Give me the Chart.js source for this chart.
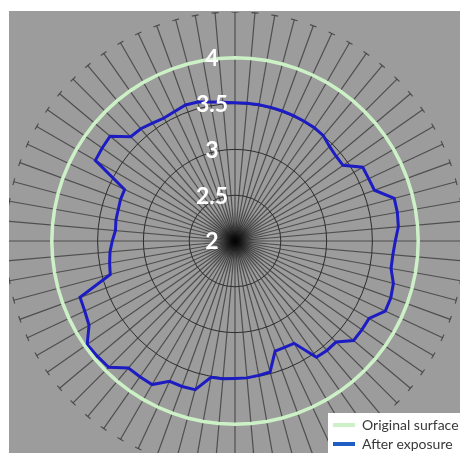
<!DOCTYPE html>
<html>
<head>
<meta charset="utf-8">
<script src="https://cdn.jsdelivr.net/npm/chart.js@4/dist/chart.umd.min.js"></script>
<style>
  html, body { margin: 0; padding: 0; background: #ffffff; width: 460px; height: 453px; overflow: hidden; }
  #plot { position: absolute; left: 9px; top: 11px; width: 451px; height: 442px; background: #9c9c9c; overflow: hidden; }
  #plot canvas { position: absolute; left: -3px; top: 1px; }
  #legend { position: absolute; left: 328px; top: 413px; width: 132px; height: 40px; background: #ffffff;
            font-family: Lato, "Open Sans", sans-serif; font-size: 14px; color: #383838; }
  .row { position: absolute; left: 0; height: 20px; line-height: 20px; white-space: nowrap; }
  .swatch { position: absolute; left: 5px; top: 8px; width: 22px; height: 4px; }
  .txt { position: absolute; left: 34px; top: 0; }
</style>
</head>
<body>
<div id="plot"><canvas id="c" width="458" height="458"></canvas></div>
<div id="legend">
  <div class="row" style="top:2px"><div class="swatch" style="background:#cdf1c6"></div><div class="txt">Original surface</div></div>
  <div class="row" style="top:21px"><div class="swatch" style="background:#1f5fc4"></div><div class="txt">After exposure</div></div>
</div>
<script>
// Measurement angles around the sample (degrees, clockwise from top)
const angles = ["0°","5°","10°","15°","20°","25°","30°","35°","40°","45°","50°","55°",
  "60°","65°","70°","75°","80°","85°","90°","95°","100°","105°","110°","115°",
  "120°","125°","130°","135°","140°","145°","150°","155°","160°","165°","170°","175°",
  "180°","185°","190°","195°","200°","205°","210°","215°","220°","225°","230°","235°",
  "240°","245°","250°","255°","260°","265°","270°","275°","280°","285°","290°","295°",
  "300°","305°","310°","315°","320°","325°","330°","335°","340°","345°","350°","355°"];

// Radius of the untouched surface
const originalSurface = [4,4,4,4,4,4,4,4,4,4,4,4, 4,4,4,4,4,4,4,4,4,4,4,4,
  4,4,4,4,4,4,4,4,4,4,4,4, 4,4,4,4,4,4,4,4,4,4,4,4,
  4,4,4,4,4,4,4,4,4,4,4,4, 4,4,4,4,4,4,4,4,4,4,4,4];

// Radius profile measured after exposure
const afterExposure = [3.51,3.51,3.51,3.51,3.51,3.51,3.51,3.51,3.50,3.46,3.44,3.44,
  3.61,3.61,3.62,3.80,3.80,3.79,3.75,3.73,3.73,3.79,3.81,3.81,
  3.69,3.69,3.69,3.56,3.56,3.55,3.29,3.28,3.28,3.48,3.49,3.50,
  3.50,3.51,3.51,3.68,3.69,3.69,3.81,3.81,3.81,3.95,3.96,3.97,
  3.84,3.81,3.80,3.41,3.39,3.37,3.34,3.31,3.32,3.32,3.33,3.33,
  3.76,3.77,3.78,3.61,3.60,3.57,3.55,3.56,3.58,3.57,3.54,3.52];

// Radial tick values shown as labels
const tickValues = [2, 2.5, 3, 3.5, 4];

const spokeColor = 'rgba(45,45,45,0.7)';

// Short cross bars at the outer end of each spoke, plus the dark hub where spokes meet
const spokeCaps = {
  id: 'spokeCaps',
  beforeDatasetsDraw(chart) {
    const s = chart.scales.r;
    const ctx = chart.ctx;
    const d = s.getDistanceFromCenterForValue(s.max);
    ctx.save();
    ctx.strokeStyle = spokeColor;
    ctx.lineWidth = 1.2;
    for (let i = 0; i < chart.data.labels.length; i++) {
      const p = s.getPointPosition(i, d);
      const a = s.getIndexAngle(i) - Math.PI / 2;
      const px = -Math.sin(a) * 3.5, py = Math.cos(a) * 3.5;
      ctx.beginPath();
      ctx.moveTo(p.x - px, p.y - py);
      ctx.lineTo(p.x + px, p.y + py);
      ctx.stroke();
    }
    const g = ctx.createRadialGradient(s.xCenter, s.yCenter, 0, s.xCenter, s.yCenter, 34);
    g.addColorStop(0, 'rgba(0,0,0,0.95)');
    g.addColorStop(0.22, 'rgba(0,0,0,0.55)');
    g.addColorStop(0.55, 'rgba(0,0,0,0.15)');
    g.addColorStop(1, 'rgba(0,0,0,0)');
    ctx.fillStyle = g;
    ctx.beginPath();
    ctx.arc(s.xCenter, s.yCenter, 34, 0, Math.PI * 2);
    ctx.fill();
    ctx.restore();
  }
};

// Tick value labels, drawn just left of the vertical axis
const tickLabels = {
  id: 'tickLabels',
  afterDatasetsDraw(chart) {
    const s = chart.scales.r;
    const ctx = chart.ctx;
    ctx.save();
    ctx.fillStyle = '#ffffff';
    ctx.font = 'bold 23px Lato, "Open Sans", sans-serif';
    ctx.textAlign = 'center';
    ctx.textBaseline = 'middle';
    tickValues.forEach(v => {
      const y = s.yCenter - s.getDistanceFromCenterForValue(v);
      ctx.fillText(String(v), s.xCenter - 23, y + 1);
    });
    ctx.restore();
  }
};

new Chart(document.getElementById('c'), {
  type: 'radar',
  data: {
    labels: angles,
    datasets: [
      { label: 'Original surface', data: originalSurface, borderColor: '#cdf1c6', borderWidth: 3.5,
        pointRadius: 0, fill: false, tension: 0 },
      { label: 'After exposure', data: afterExposure, borderColor: '#1c1cc2', borderWidth: 3,
        pointRadius: 0, fill: false, tension: 0 }
    ]
  },
  options: {
    responsive: false,
    animation: false,
    events: [],
    layout: { padding: 0 },
    plugins: { legend: { display: false }, tooltip: { enabled: false } },
    scales: {
      r: {
        min: 2,
        max: 4.5,
        ticks: { stepSize: 0.5, display: false },
        pointLabels: { display: false },
        angleLines: { display: true, color: spokeColor, lineWidth: 1.2 },
        grid: {
          circular: true,
          lineWidth: 1,
          borderDash: [3, 2],
          color: ctx => (ctx.tick && ctx.tick.value <= 4) ? 'rgba(25,25,25,0.85)' : 'rgba(0,0,0,0)'
        }
      }
    }
  },
  plugins: [spokeCaps, tickLabels]
});
</script>
</body>
</html>
